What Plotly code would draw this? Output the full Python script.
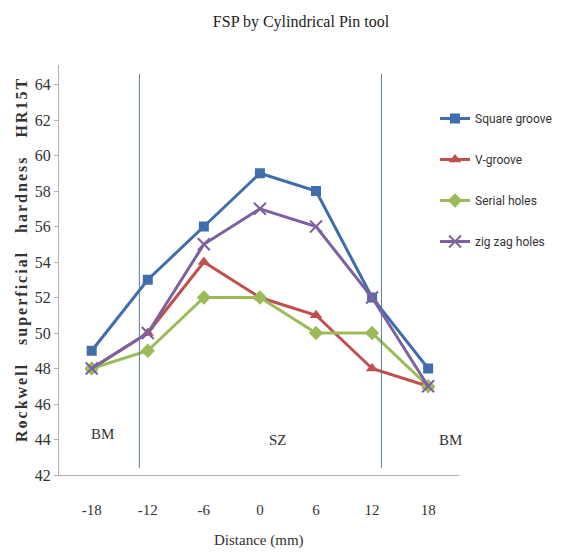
import plotly.graph_objects as go

distance = [-18, -12, -6, 0, 6, 12, 18]
square_groove = [49, 53, 56, 59, 58, 52, 48]
v_groove = [48, 50, 54, 52, 51, 48, 47]
serial_holes = [48, 49, 52, 52, 50, 50, 47]
zigzag_holes = [48, 50, 55, 57, 56, 52, 47]

zone_bounds = [-12.9, 13.0]
zone_labels = ["BM", "SZ", "BM"]
zone_label_x = [-16.8, 1.9, 20.4]
zone_label_y = [44.3, 43.95, 43.95]

series = [
    ("Square groove", square_groove, "#3F6DAD", "square", 10),
    ("V-groove", v_groove, "#C0504D", "triangle-up", 11),
    ("Serial holes", serial_holes, "#9BBB59", "diamond", 11),
    ("zig zag holes", zigzag_holes, "#7D60A0", "x-thin-open", 12),
]

# page has an 8px body margin; the figure is offset and made wide enough
# that the legend never pushes the plot margins
OFF = 8
W, H = 580, 545
PL, PR, PT, PB = 59, 459, 65, 475  # plot area in page pixels

fig = go.Figure()
for i, (name, vals, col, sym, msz) in enumerate(series):
    fig.add_trace(go.Scatter(
        x=distance, y=vals, name=name, mode="lines+markers",
        line=dict(color=col, width=3),
        marker=dict(symbol=sym, size=msz, color=col,
                    line=dict(color=col, width=2 if "open" in sym else 0)),
        legendgroup=f"g{i}",
    ))

for xb in zone_bounds:
    fig.add_shape(type="line", x0=xb, x1=xb, y0=42.4, y1=64.6,
                  xref="x", yref="y", line=dict(color="#5B7A99", width=1))

for lab, lx, ly in zip(zone_labels, zone_label_x, zone_label_y):
    fig.add_annotation(x=lx, y=ly, text=lab, showarrow=False, xref="x", yref="y",
                       font=dict(family="Liberation Serif", size=15, color="#333"))

pw = PR - PL
ph = PB - PT
nb = "\u00a0"
ytitle = ("Rockwell" + nb * 3 + "superficial" + nb * 3 + "hardness" + nb * 3 + "HR15T")
fig.add_annotation(x=(22 - PL) / pw, y=(PB - 260) / ph, xref="paper", yref="paper",
                   xanchor="center", yanchor="middle",
                   text=f"<b><span style='letter-spacing:2px'>{ytitle}</span></b>",
                   textangle=-90, showarrow=False,
                   font=dict(family="Liberation Serif", size=16, color="#333"))

fig.add_annotation(x=0.5, y=(PB - 540) / ph, xref="paper", yref="paper",
                   xanchor="center", yanchor="middle", text="Distance (mm)",
                   showarrow=False,
                   font=dict(family="Liberation Serif", size=15, color="#333"))

fig.update_layout(
    width=W, height=H,
    margin=dict(l=PL - OFF, r=W - (PR - OFF), t=PT - OFF, b=H - (PB - OFF)),
    paper_bgcolor="white", plot_bgcolor="white",
    title=dict(text="FSP by Cylindrical Pin tool", x=(301 - OFF) / W, xanchor="center",
               y=1 - (21 - OFF) / H, yanchor="middle",
               font=dict(family="Liberation Serif", size=16, color="#222")),
    legend=dict(x=(435 - PL) / pw, y=(PB - 104) / ph, xanchor="left", yanchor="top",
                font=dict(family="Liberation Sans Narrow, Roboto, sans-serif", size=12, color="#333"),
                tracegroupgap=22, itemwidth=30, bgcolor="rgba(0,0,0,0)"),
    xaxis=dict(range=[-21.5, 21.3], tickvals=distance, ticktext=[str(d) for d in distance],
               automargin=False,
               showgrid=False, zeroline=False, showline=True, linecolor="#B0B0B0",
               linewidth=1, ticks="", ticklabelstandoff=21,
               tickfont=dict(family="Liberation Serif", size=15, color="#333")),
    yaxis=dict(range=[42, 65.1], dtick=2, tick0=42, showgrid=False, zeroline=False,
               automargin=False,
               showline=True, linecolor="#B0B0B0", linewidth=1,
               ticks="outside", ticklen=4, tickcolor="#B0B0B0",
               tickfont=dict(family="Liberation Serif", size=16, color="#333")),
)

fig.write_html("out.html")
